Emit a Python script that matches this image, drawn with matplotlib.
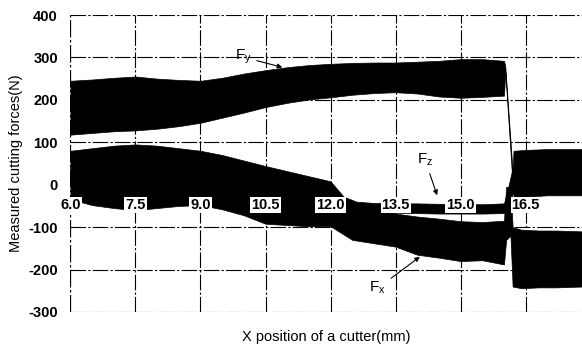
import matplotlib
matplotlib.use('Agg')
import matplotlib.pyplot as plt

plt.rcParams['font.family'] = ['Liberation Sans', 'DejaVu Sans']
plt.rcParams['mathtext.fontset'] = 'custom'
plt.rcParams['mathtext.rm'] = 'Liberation Sans'

# envelopes of the measured signals (mm, N)
fy_x = [6.0, 6.5, 7.0, 7.5, 8.0, 8.5, 9.0, 9.5, 10.0, 10.5, 11.0, 11.5, 12.0,
        12.5, 13.0, 13.5, 14.0, 14.5, 15.0, 15.5, 16.0, 16.03, 16.2, 16.22,
        16.5, 17.0, 17.5, 17.8]
fy_top = [245, 248, 252, 255, 250, 247, 245, 252, 262, 270, 277, 282, 285,
          287, 288, 288, 290, 292, 296, 296, 292, 280, 30, 80,
          82, 84, 84, 84]
fy_bot = [118, 122, 126, 128, 132, 138, 146, 158, 170, 183, 193, 201, 206,
          212, 216, 218, 215, 208, 205, 207, 210, 265, 0, -30,
          -28, -25, -25, -25]

fz_x = [6.0, 6.5, 7.0, 7.5, 8.0, 8.5, 9.0, 9.5, 10.0, 10.5, 11.0, 11.5, 12.0,
        12.3, 12.6, 13.0, 13.5, 14.0, 14.5, 15.0, 15.5, 16.0, 16.1, 16.2,
        16.5, 17.0, 17.5, 17.8]
fz_top = [80, 86, 92, 95, 92, 86, 80, 70, 57, 44, 32, 20, 8,
          -28, -40, -43, -44, -44, -45, -46, -46, -44, -5, 40,
          60, 62, 62, 62]
fz_bot = [0, 0, 0, -5, -5, -5, -10, -15, -25, -35, -45, -55, -60,
          -55, -62, -65, -66, -67, -68, -68, -68, -67, -60, -20,
          -10, -10, -10, -10]

fx_x = [6.0, 6.5, 7.0, 7.5, 8.0, 8.5, 9.0, 9.5, 10.0, 10.5, 11.0, 11.5, 12.0,
        12.5, 13.0, 13.5, 14.0, 14.5, 15.0, 15.5, 16.0, 16.05, 16.15, 16.2,
        16.4, 16.8, 17.2, 17.8]
fx_top = [40, 40, 40, 30, 25, 20, 20, 10, 0, -20, -30, -40, -50,
          -40, -55, -68, -75, -80, -86, -88, -85, -5, -5, -100,
          -106, -108, -108, -110]
fx_bot = [-34, -48, -55, -60, -55, -50, -48, -58, -72, -92, -95, -98, -98,
          -130, -138, -146, -165, -172, -180, -178, -188, -130, -120, -240,
          -244, -242, -242, -240]

x_ticks = [6.0, 7.5, 9.0, 10.5, 12.0, 13.5, 15.0, 16.5]
y_ticks = [-300, -200, -100, 0, 100, 200, 300, 400]

fig = plt.figure(figsize=(5.82, 3.45), dpi=100)
ax = fig.add_axes([0.121, 0.0957, 0.879, 0.8608])

ax.fill_between(fy_x, fy_bot, fy_top, color='black', lw=0.5, zorder=3)
ax.fill_between(fz_x, fz_bot, fz_top, color='black', lw=0.5, zorder=3)
ax.fill_between(fx_x, fx_bot, fx_top, color='black', lw=0.5, zorder=3)

ax.set_xlim(6.0, 17.8)
ax.set_ylim(-300, 400)

# dash-dot grid as in the original
dd = (0, (14, 2, 2, 2))
for y in y_ticks:
    if y != 0:
        ax.axhline(y, color='black', lw=0.8, ls=dd, zorder=1)
for x in x_ticks[1:]:
    ax.axvline(x, color='black', lw=0.8, ls=dd, zorder=1)
ax.axvline(6.0, color='black', lw=0.9, ls=dd, zorder=1)

for s in ax.spines.values():
    s.set_visible(False)

ax.set_xticks([])
ax.set_yticks(y_ticks)
ax.set_yticklabels([str(v) for v in y_ticks], fontsize=10.5, fontweight='bold')
ax.tick_params(axis='y', length=0, pad=9)

# x tick labels sit inside the plot on white boxes
for x in x_ticks:
    ax.text(x, -48, f'{x:.1f}', ha='center', va='center', fontsize=10.5,
            fontweight='bold', zorder=5,
            bbox=dict(facecolor='white', edgecolor='none', pad=0.6))

ax.set_xlabel('X position of a cutter(mm)', fontsize=10.5, labelpad=13)
ax.set_ylabel('Measured cutting forces(N)', fontsize=10.5, labelpad=4)

arrow = dict(arrowstyle='-|>', color='black', lw=0.8, mutation_scale=7)
ax.annotate(r'$\mathregular{F_y}$', xy=(10.95, 275), xytext=(9.98, 301),
            fontsize=11, ha='center', va='center', arrowprops=arrow, zorder=6)
ax.annotate(r'$\mathregular{F_z}$', xy=(14.48, -31), xytext=(14.18, 58),
            fontsize=11, ha='center', va='center', arrowprops=arrow, zorder=6)
ax.annotate(r'$\mathregular{F_x}$', xy=(14.11, -166), xytext=(13.09, -244),
            fontsize=11, ha='center', va='center', arrowprops=arrow, zorder=6)

fig.savefig('out.png', dpi=100)
